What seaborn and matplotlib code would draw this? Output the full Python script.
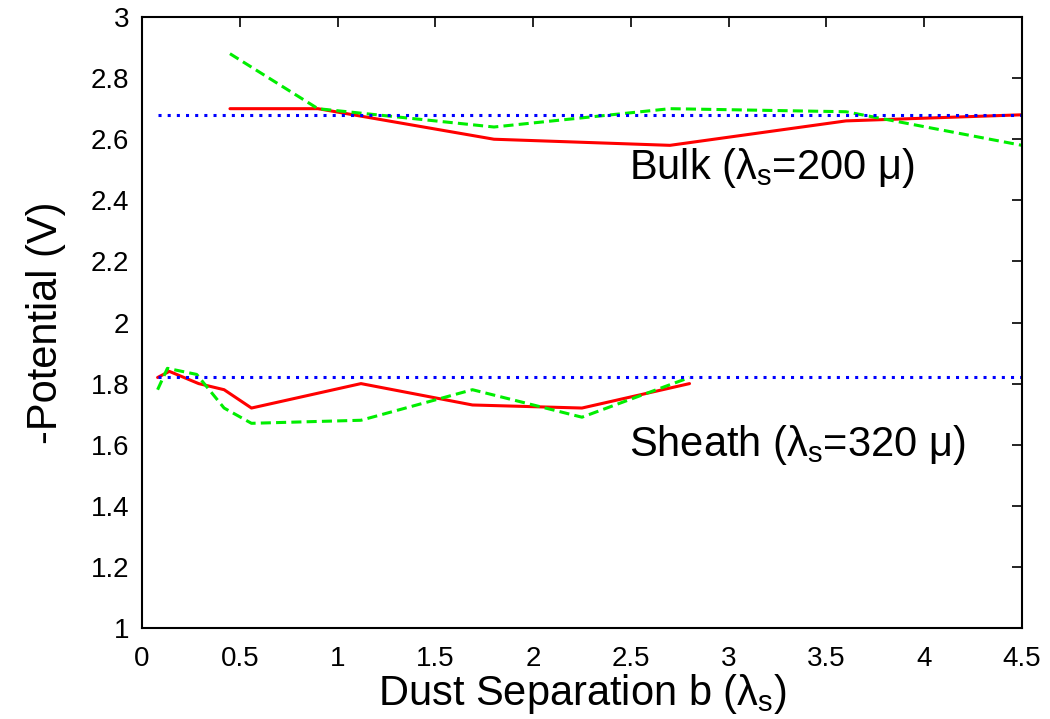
import numpy as np
import pandas as pd
import matplotlib
matplotlib.use("Agg")
import matplotlib.pyplot as plt
import seaborn as sns

# Bulk plasma (lambda_s = 200 micron)
bulk_red_b = [0.45, 0.9, 1.8, 2.7, 3.6, 4.5]
bulk_red_v = [2.70, 2.70, 2.60, 2.58, 2.66, 2.68]
bulk_green_b = [0.45, 0.9, 1.8, 2.7, 3.6, 4.5]
bulk_green_v = [2.88, 2.70, 2.64, 2.70, 2.69, 2.58]
bulk_ref_b = [0.08, 4.5]
bulk_ref_v = [2.68, 2.68]

# Sheath (lambda_s = 320 micron)
sheath_red_b = [0.08, 0.14, 0.29, 0.42, 0.56, 1.12, 1.69, 2.25, 2.80]
sheath_red_v = [1.82, 1.84, 1.80, 1.78, 1.72, 1.80, 1.73, 1.72, 1.80]
sheath_green_b = [0.08, 0.13, 0.28, 0.42, 0.56, 1.12, 1.69, 2.25, 2.80]
sheath_green_v = [1.78, 1.85, 1.83, 1.72, 1.67, 1.68, 1.78, 1.69, 1.82]
sheath_ref_b = [0.08, 4.5]
sheath_ref_v = [1.82, 1.82]

x_ticks = [0, 0.5, 1, 1.5, 2, 2.5, 3, 3.5, 4, 4.5]
x_tick_labels = ["0", "0.5", "1", "1.5", "2", "2.5", "3", "3.5", "4", "4.5"]
y_ticks = [1, 1.2, 1.4, 1.6, 1.8, 2, 2.2, 2.4, 2.6, 2.8, 3]
y_tick_labels = ["1", "1.2", "1.4", "1.6", "1.8", "2", "2.2", "2.4", "2.6", "2.8", "3"]

sns.set_theme(style="white")
plt.rcParams["font.family"] = ["Liberation Sans", "DejaVu Sans"]
plt.rcParams["mathtext.fontset"] = "custom"
plt.rcParams["mathtext.rm"] = "Liberation Sans"
plt.rcParams["mathtext.it"] = "Liberation Sans"
plt.rcParams["mathtext.bf"] = "Liberation Sans:bold"
plt.rcParams["text.color"] = "black"
plt.rcParams["axes.labelcolor"] = "black"

series = [
    ("bulk_red", bulk_red_b, bulk_red_v),
    ("bulk_green", bulk_green_b, bulk_green_v),
    ("bulk_ref", bulk_ref_b, bulk_ref_v),
    ("sheath_red", sheath_red_b, sheath_red_v),
    ("sheath_green", sheath_green_b, sheath_green_v),
    ("sheath_ref", sheath_ref_b, sheath_ref_v),
]
frames = []
for name, b, v in series:
    frames.append(pd.DataFrame({"b": b, "v": v, "series": name}))
df = pd.concat(frames, ignore_index=True)

dash = (0, (3.3, 1.7))
dots = (0, (1, 2))
styles = {
    "bulk_red": dict(color="#ff0000", linestyle="-"),
    "bulk_green": dict(color="#00ee00", linestyle=dash),
    "bulk_ref": dict(color="#0000ff", linestyle=dots),
    "sheath_red": dict(color="#ff0000", linestyle="-"),
    "sheath_green": dict(color="#00ee00", linestyle=dash),
    "sheath_ref": dict(color="#0000ff", linestyle=dots),
}

fig = plt.figure(figsize=(10.5, 7.19), dpi=100)
ax = fig.add_axes([0.1352, 0.1266, 0.8381, 0.8497])

for name, sub in df.groupby("series", sort=False):
    sns.lineplot(data=sub, x="b", y="v", sort=False, estimator=None, ax=ax,
                 linewidth=2.2, **styles[name])

ax.set_xlim(0, 4.5)
ax.set_ylim(1, 3)
ax.set_xticks(x_ticks)
ax.set_xticklabels(x_tick_labels)
ax.set_yticks(y_ticks)
ax.set_yticklabels(y_tick_labels)
ax.tick_params(direction="in", length=7, width=1.2, top=True, right=True,
               labelsize=20, colors="black")
ax.tick_params(axis="x", pad=13)
ax.tick_params(axis="y", pad=9)
for s in ax.spines.values():
    s.set_color("black")
    s.set_linewidth(1.5)

ax.set_xlabel(r"Dust Separation b ($\lambda_{\rm s}$)", fontsize=30, labelpad=0)
ax.set_ylabel("-Potential (V)", fontsize=30, labelpad=18)

ax.text(2.49, 2.47, r"Bulk ($\lambda_{\rm s}$=200 $\mu$)", fontsize=30)
ax.text(2.49, 1.562, r"Sheath ($\lambda_{\rm s}$=320 $\mu$)", fontsize=30)

fig.savefig("out.png", dpi=100)
